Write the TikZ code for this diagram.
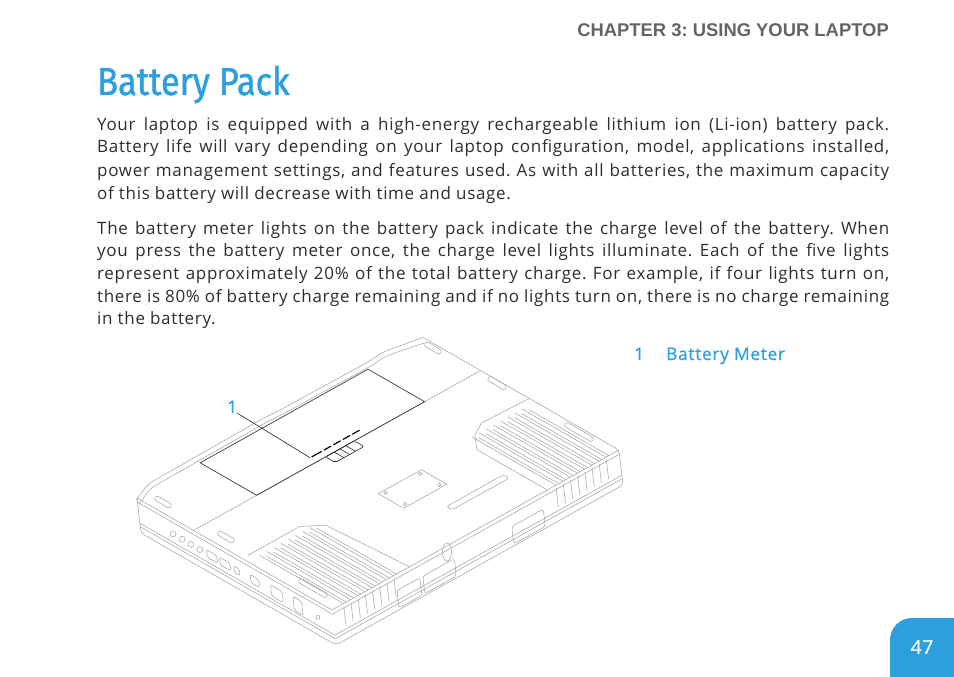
\documentclass[tikz,border=0pt]{standalone}
\usepackage{fontspec}
\setmainfont{Open Sans}[LetterSpace=4.0]
\newfontfamily\titlefont{Fira Sans}[FakeStretch=0.88, FakeBold=1.2]
\newfontfamily\labelfont{Open Sans}[LetterSpace=4.0, FakeBold=0.6]
\newfontfamily\headfont{Liberation Sans}
\usepackage{tikz}
\frenchspacing

\definecolor{dellblue}{RGB}{45,159,223}
\definecolor{headgray}{RGB}{100,100,100}
\definecolor{textgray}{RGB}{45,45,45}
\definecolor{sketchgray}{RGB}{160,160,160}

\begin{document}
\begin{tikzpicture}[x=1pt, y=-1pt,
body_text/.style={anchor=base west, inner sep=0pt, text=textgray, font=\fontsize{17}{20}\selectfont},
head_style/.style={anchor=base east, inner sep=0pt, text=headgray, font=\headfont\bfseries\fontsize{18.4}{20}\selectfont},
title_style/.style={anchor=base west, inner sep=0pt, text=dellblue, font=\titlefont\fontsize{39}{44}\selectfont},
label_style/.style={anchor=base west, inner sep=0pt, text=dellblue, font=\labelfont\fontsize{17.3}{20}\selectfont},
sketch_line/.style={draw=sketchgray, line width=0.5pt},
battery_line/.style={draw=black!85, line width=0.6pt},
leader_line/.style={draw=black, line width=0.5pt}]
\useasboundingbox (0,0) rectangle (954,677);
\fill[white] (0,0) rectangle (954,677);

% header and text
\node[head_style] (chapter) at (889,36.5) {CHAPTER 3: USING YOUR LAPTOP};
\node[title_style] (title) at (97,95) {Battery Pack};

\node[body_text] (p1a) at (97,130) {\makebox[792pt][s]{Your laptop is equipped with a high-energy rechargeable lithium ion (Li-ion) battery pack.}};
\node[body_text] (p1b) at (97,153) {\makebox[792pt][s]{Battery life will vary depending on your laptop configuration, model, applications installed,}};
\node[body_text] (p1c) at (97,176) {\makebox[792pt][s]{power management settings, and features used. As with all batteries, the maximum capacity}};
\node[body_text] (p1d) at (97,199) {of this battery will decrease with time and usage.};

\node[body_text] (p2a) at (97,234) {\makebox[792pt][s]{The battery meter lights on the battery pack indicate the charge level of the battery. When}};
\node[body_text] (p2b) at (97,256.5) {\makebox[792pt][s]{you press the battery meter once, the charge level lights illuminate. Each of the five lights}};
\node[body_text] (p2c) at (97,279) {\makebox[792pt][s]{represent approximately 20\% of the total battery charge. For example, if four lights turn on,}};
\node[body_text] (p2d) at (97,302) {\makebox[792pt][s]{there is 80\% of battery charge remaining and if no lights turn on, there is no charge remaining}};
\node[body_text] (p2e) at (97,324.5) {in the battery.};

% legend
\node[label_style] (legend_num) at (634,360) {1};
\node[label_style] (legend_text) at (666,360) {Battery Meter};

% laptop, left-back edge
\draw[sketch_line, rounded corners=5] (136,500) -- (148,484) -- (262,419) -- (280,410) -- (368,362) -- (383,352) -- (424,337);
\draw[sketch_line, rounded corners=5, shift={(3,4)}] (136,500) -- (148,484) -- (262,419) -- (280,410) -- (368,362) -- (383,352) -- (421,339);

% latches along the edges
\foreach \px/\py/\len in {163/502/9, 226/537/9, 313/588/16, 433/348/9, 497/383/10, 579/432/16}
  \draw[sketch_line, rotate around={-30:(\px,\py)}, rounded corners=2] (\px-\len,\py-2.5) rectangle (\px+\len,\py+2.5);

% rubber foot
\draw[sketch_line] (447,552) ellipse [x radius=4.5, y radius=9];

\begin{scope}[x={(195pt,-112pt)}, y={(287pt,160pt)}, z={(4pt,-35pt)}, shift={(137pt,-498pt)}]
  % body
  \draw[sketch_line, rounded corners=4] (0,1) -- (1,1) -- (1,1,1) -- (1,0,1) -- (0,0,1) -- (0,0,0);
  \draw[sketch_line] (0,0) -- (1,0) -- (1,1);
  \foreach \d in {0.12, 0.72, 0.82}
    \draw[sketch_line] (0,0,\d) -- (1,0,\d) -- (1,1,\d);
  \draw[sketch_line] (0.29,0) -- (0.29,1);

  % battery
  \draw[battery_line] (0,0.22) -- (0.29,0.22) -- (0.29,0.805) -- (0,0.805) -- cycle;
  \coordinate (meter_tip) at (0.255,0.43);
  \draw[black, line width=1.2pt] (0.255,0.435) -- (0.255,0.47);
  \foreach \t in {0.478,0.511,0.544,0.577}
    \draw[black, line width=1.2pt] (0.255,\t) -- (0.255,\t+0.025);
  \draw[battery_line, rounded corners=2] (0.29,0.46) -- (0.34,0.46) -- (0.34,0.56) -- (0.29,0.56) -- cycle;
  \foreach \t in {0.49,0.51,0.53}
    \draw[battery_line] (0.29,\t) -- (0.34,\t);

  % access panel and slot
  \draw[sketch_line] (0.59,0.44) -- (0.72,0.44) -- (0.72,0.59) -- (0.59,0.59) -- cycle;
  \foreach \s/\t in {0.605/0.455, 0.605/0.575, 0.705/0.575, 0.705/0.455}
    \draw[sketch_line] (\s,\t) circle [radius=1.8pt];
  \draw[sketch_line, rounded corners=3] (0.82,0.52) -- (0.85,0.52) -- (0.85,0.72) -- (0.82,0.72) -- cycle;

  % right vent
  \draw[sketch_line] (0.54,1) -- (0.53,0.84) -- (0.57,0.79) -- (0.64,0.75) -- (1,0.75);
  \foreach \t in {0.78,0.805,0.83,0.855,0.88,0.905,0.93,0.955} {
    \draw[sketch_line] (0.57,\t) -- (1,\t);
    \draw[sketch_line] (0.59,\t+0.01) -- (1,\t+0.01);
    \draw[sketch_line] (1,\t,0.08) -- (1,\t,0.62);
  }

  % left vent
  \draw[sketch_line] (0.54,0.02) -- (0.54,0.2) -- (0.6,0.25) -- (1,0.27);
  \foreach \t in {0.04,0.065,0.09,0.115,0.14,0.165,0.19,0.215} {
    \draw[sketch_line] (0.57,\t) -- (1,\t);
    \draw[sketch_line] (0.59,\t+0.01) -- (1,\t+0.01);
    \draw[sketch_line] (1,\t,0.08) -- (1,\t,0.62);
  }

  % hinges
  \foreach \ta/\tb in {0.62/0.73, 0.31/0.42, 0.22/0.30}
    \draw[sketch_line, rounded corners=3] (1,\ta,0.45) -- (1,\tb,0.45) -- (1,\tb,0.95) -- (1,\ta,0.95) -- cycle;

  % ports
  \foreach \s in {0.175,0.221,0.267,0.313}
    \draw[sketch_line] (\s,0,0.47) circle [radius=3pt];
  \foreach \s/\w/\h in {0.375/0.027/0.11, 0.442/0.027/0.11, 0.503/0.014/0.1, 0.595/0.022/0.12, 0.708/0.03/0.16, 0.816/0.022/0.2}
    \draw[sketch_line, rounded corners=2] (\s-\w,0,0.47-\h) -- (\s+\w,0,0.47-\h) -- (\s+\w,0,0.47+\h) -- (\s-\w,0,0.47+\h) -- cycle;
  \draw[sketch_line] (0.918,0,0.47) circle [radius=2pt];
\end{scope}

% callout
\node[label_style] (callout) at (227,413) {1};
\draw[leader_line] (callout.south east) -- (meter_tip);

% page number
\begin{scope}
  \clip (0,0) rectangle (954,677);
  \fill[dellblue, rounded corners=22] (890,618) rectangle (990,710);
\end{scope}
\node[text=white, font=\labelfont\fontsize{19}{20}\selectfont] (page) at (922,647) {47};
\end{tikzpicture}
\end{document}
